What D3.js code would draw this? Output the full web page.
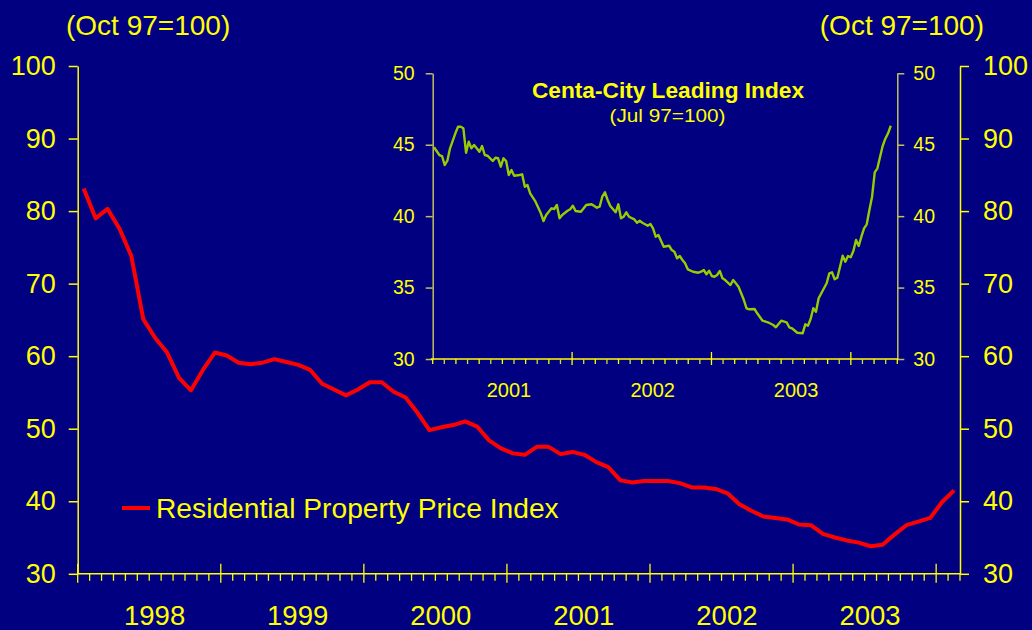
<!DOCTYPE html>
<html><head><meta charset="utf-8">
<script src="https://cdn.jsdelivr.net/npm/d3@7"></script>
<style>html,body{margin:0;padding:0;background:#000080;} svg{display:block;}</style>
</head><body>
<svg id="c" width="1032" height="630"></svg>
<script>
// ---------- data ----------
const mainYears = ["1998","1999","2000","2001","2002","2003"];
const mainYTicks = [30,40,50,60,70,80,90,100];
const priceIndex = [
 83.1,79.0,80.3,77.6,73.8,65.1,62.5,60.5,57.0,55.3,58.1,60.5,
 60.1,59.1,58.9,59.1,59.6,59.2,58.8,58.1,56.2,55.4,54.6,55.4,
 56.4,56.4,55.1,54.3,52.2,49.8,50.2,50.5,51.0,50.3,48.4,47.3,
 46.6,46.4,47.5,47.5,46.5,46.8,46.4,45.4,44.7,42.9,42.6,42.8,
 42.8,42.8,42.5,41.9,41.9,41.7,41.1,39.6,38.7,37.9,37.7,37.5,
 36.8,36.7,35.5,35.0,34.6,34.3,33.8,34.0,35.4,36.7,37.2,37.7,
 39.9,41.5];
const legendLabel = "Residential Property Price Index";
const baseLabel = "(Oct 97=100)";

const insetTitle = "Centa-City Leading Index";
const insetSubtitle = "(Jul 97=100)";
const insetYears = ["2001","2002","2003"];
const insetYearPos = [6.57, 18.94, 31.28];   // month position of labels
const insetYTicks = [30,35,40,45,50];
const cclWeek = [0,2,3,4,5,6,8,9,10,11,12,13,14,15,16,17,18,19,20,22,23,24,25,26,27,28,29,30,32,33,34,35,36,38,40,41,42,44,45,46,47,48,50,51,52,53,55,57,59,61,62,63,64,65,66,68,69,70,71,72,73,75,76,77,78,80,81,82,83,84,86,88,89,90,91,92,93,94,95,97,99,100,101,102,103,104,105,106,107,108,109,111,112,113,114,115,116,117,118,120,121,123,125,127,128,130,132,133,134,136,138,139,140,141,142,143,144,146,147,148,149,150,151,152,153,154,155,156,157,158,159,160,161,162,163,164,165,166,167,168,169,170,171];
const cclValue = [44.82,44.28,44.21,43.58,43.88,44.75,45.80,46.26,46.26,46.15,44.44,45.21,44.75,44.98,44.75,44.51,44.91,44.28,44.23,43.86,44.09,44.05,43.46,44.05,43.86,42.88,43.23,42.83,42.88,42.93,42.06,42.18,41.60,41.01,40.20,39.66,40.08,40.55,40.50,40.78,39.85,40.08,40.38,40.48,40.73,40.36,40.31,40.78,40.83,40.59,40.66,41.36,41.67,41.13,40.71,40.27,40.83,39.85,39.96,40.27,39.96,39.77,39.54,39.68,39.54,39.33,39.45,39.15,38.56,38.68,37.86,37.93,37.63,37.51,37.05,37.21,36.93,36.70,36.28,36.11,36.04,36.11,36.23,35.93,36.18,35.81,35.76,35.88,36.16,35.65,35.53,35.18,35.53,35.30,35.06,34.60,34.13,33.55,33.48,33.50,33.20,32.68,32.57,32.38,32.22,32.68,32.57,32.22,32.15,31.84,31.80,32.43,32.33,32.80,33.55,33.31,34.25,34.95,35.30,36.00,36.07,35.58,35.69,36.46,37.23,36.81,37.21,37.12,37.56,38.33,37.91,38.56,39.15,39.43,40.43,41.36,43.07,43.35,44.16,44.93,45.44,45.80,46.33];

// ---------- styles ----------
const BG = "#000080", YEL = "#ffff00", OLIVE = "#c0c05a", RED = "#ff0000", GREEN = "#99cc00";
const FONT = "'Liberation Sans', Arial, Helvetica, sans-serif";

const svg = d3.select("#c");
svg.append("rect").attr("width",1032).attr("height",630).attr("fill",BG);

// ---------- main chart ----------
const nMonths = priceIndex.length;
const xMain = d3.scaleLinear().domain([0, nMonths]).range([77.7, 960]);
const yMain = d3.scaleLinear().domain([30, 100]).range([573.8, 66]);

// left axis
const gL = svg.append("g").attr("transform", `translate(${xMain(0)},0)`)
  .call(d3.axisLeft(yMain).tickValues(mainYTicks).tickSize(9).tickSizeOuter(0).tickPadding(13));
// right axis
const gR = svg.append("g").attr("transform", `translate(${xMain(nMonths)},0)`)
  .call(d3.axisRight(yMain).tickValues(mainYTicks).tickSize(9).tickSizeOuter(0).tickPadding(14));
[gL, gR].forEach(g => {
  g.select(".domain").attr("stroke", YEL).attr("stroke-width", 1.5);
  g.selectAll(".tick line").attr("stroke", YEL).attr("stroke-width", 1.5);
  g.selectAll(".tick text").attr("fill", YEL).attr("font-family", FONT).attr("font-size", 27);
});

// bottom axis
const yAx = yMain(30);
svg.append("line").attr("x1", xMain(0)).attr("x2", xMain(nMonths)).attr("y1", yAx).attr("y2", yAx)
  .attr("stroke", YEL).attr("stroke-width", 1.5);
const monthIdx = d3.range(0, nMonths + 1);
svg.append("g").selectAll("line").data(monthIdx).join("line")
  .attr("x1", d => xMain(d)).attr("x2", d => xMain(d))
  .attr("y1", d => d % 12 === 0 ? yAx - 10 : yAx)
  .attr("y2", d => d % 12 === 0 ? yAx + 9 : yAx + 7)
  .attr("stroke", YEL).attr("stroke-width", 1.3);
svg.append("g").selectAll("text").data(mainYears).join("text")
  .attr("x", (d, i) => xMain(i * 12 + 6.45)).attr("y", 625)
  .attr("text-anchor", "middle").attr("fill", YEL).attr("font-family", FONT).attr("font-size", 27.5)
  .text(d => d);

// base labels
svg.append("text").attr("x", 66).attr("y", 35).attr("fill", YEL).attr("font-family", FONT)
  .attr("font-size", 28).text(baseLabel);
svg.append("text").attr("x", 984).attr("y", 35).attr("text-anchor", "end").attr("fill", YEL)
  .attr("font-family", FONT).attr("font-size", 28).text(baseLabel);

// main line
const lineMain = d3.line().x((d, i) => xMain(i + 0.5)).y(d => yMain(d));
svg.append("path").datum(priceIndex).attr("d", lineMain).attr("fill", "none")
  .attr("stroke", RED).attr("stroke-width", 4).attr("stroke-linejoin", "round");

// legend
svg.append("line").attr("x1", 122).attr("x2", 150).attr("y1", 508).attr("y2", 508)
  .attr("stroke", RED).attr("stroke-width", 4);
svg.append("text").attr("x", 156).attr("y", 517.5).attr("fill", YEL).attr("font-family", FONT)
  .attr("font-size", 28.2).text(legendLabel);

// ---------- inset ----------
const insetMonths = 40;
const xIn = d3.scaleLinear().domain([0, insetMonths]).range([432.7, 897.3]);
const yIn = d3.scaleLinear().domain([30, 50]).range([359, 73.3]);
const weekToMonth = w => w * 12 / 52.18;

const gIL = svg.append("g").attr("transform", `translate(${xIn(0)},0)`)
  .call(d3.axisLeft(yIn).tickValues(insetYTicks).tickSize(7).tickSizeOuter(0).tickPadding(11));
const gIR = svg.append("g").attr("transform", `translate(${xIn(insetMonths)},0)`)
  .call(d3.axisRight(yIn).tickValues(insetYTicks).tickSize(7).tickSizeOuter(0).tickPadding(9));
[gIL, gIR].forEach(g => {
  g.select(".domain").attr("stroke", OLIVE).attr("stroke-width", 1.5);
  g.selectAll(".tick line").attr("stroke", OLIVE).attr("stroke-width", 1.5);
  g.selectAll(".tick text").attr("fill", YEL).attr("font-family", FONT).attr("font-size", 19.5);
});
const yInAx = yIn(30);
svg.append("line").attr("x1", xIn(0) - 2).attr("x2", xIn(insetMonths) + 1).attr("y1", yInAx).attr("y2", yInAx)
  .attr("stroke", YEL).attr("stroke-width", 1.5);
svg.append("g").selectAll("line").data(d3.range(0, insetMonths + 1)).join("line")
  .attr("x1", d => xIn(d)).attr("x2", d => xIn(d))
  .attr("y1", d => d % 12 === 0 && d > 0 ? yInAx - 7 : yInAx)
  .attr("y2", d => d % 12 === 0 && d > 0 ? yInAx + 6 : yInAx + 5)
  .attr("stroke", (d, i) => i % 2 ? "#d8d840" : YEL).attr("stroke-width", 1.3);
svg.append("g").selectAll("text").data(insetYears).join("text")
  .attr("x", (d, i) => xIn(insetYearPos[i])).attr("y", 397)
  .attr("text-anchor", "middle").attr("fill", YEL).attr("font-family", FONT).attr("font-size", 20)
  .text(d => d);

svg.append("text").attr("x", 668).attr("y", 97.5).attr("text-anchor", "middle")
  .attr("fill", YEL).attr("font-family", FONT).attr("font-size", 22).attr("font-weight", "bold")
  .attr("textLength", 272).attr("lengthAdjust", "spacingAndGlyphs").text(insetTitle);
svg.append("text").attr("x", 667.5).attr("y", 122).attr("text-anchor", "middle")
  .attr("fill", YEL).attr("font-family", FONT).attr("font-size", 19)
  .attr("textLength", 116).attr("lengthAdjust", "spacingAndGlyphs").text(insetSubtitle);

const cclData = cclWeek.map((w, i) => [weekToMonth(w), cclValue[i]]);
const lineIn = d3.line().x(d => xIn(d[0]) + 1.3).y(d => yIn(d[1]));
svg.append("path").datum(cclData).attr("d", lineIn).attr("fill", "none")
  .attr("stroke", GREEN).attr("stroke-width", 2.4).attr("stroke-linejoin", "round");
</script>
</body></html>
